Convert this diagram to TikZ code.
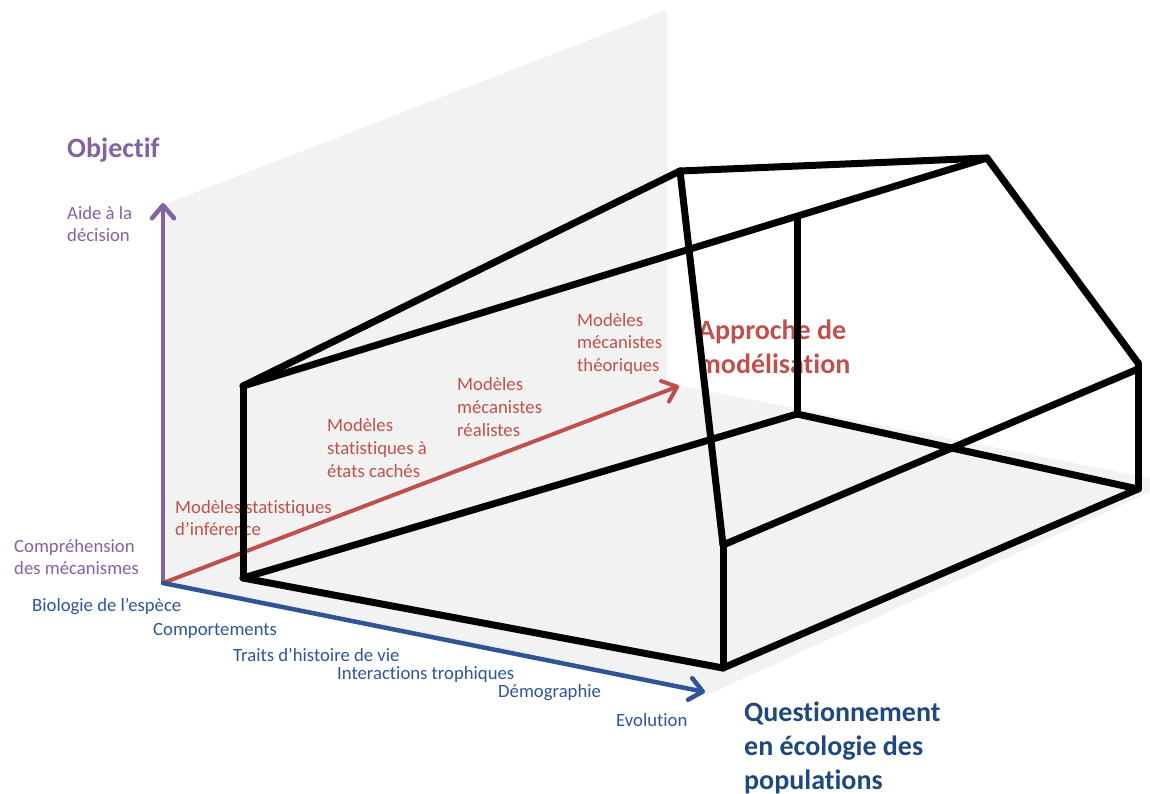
\documentclass[tikz,border=0pt]{standalone}
\usepackage{fontspec}
\setmainfont{Carlito}[Ligatures={NoCommon}]
\usetikzlibrary{arrows.meta}
\definecolor{plane}{HTML}{F2F2F2}
\definecolor{axpurple}{HTML}{8064A2}
\definecolor{axred}{HTML}{C0504D}
\definecolor{axblue}{HTML}{2F5597}
\definecolor{titleblue}{HTML}{1F497D}
\tikzset{
  lbl/.style={inner sep=0pt, anchor=west, align=left, font=\fontsize{18.7}{22.8}\selectfont},
  title/.style={inner sep=0pt, anchor=west, align=left, font=\bfseries\fontsize{28}{34}\selectfont},
  axis/.style={line width=4.5pt, line cap=round, -{Straight Barb[length=13pt,width=22pt,line cap=round,line join=round]}},
  frame/.style={line width=7pt, line cap=round, line join=round, black},
}
\begin{document}
\begin{tikzpicture}[x=1pt,y=-1pt]
\useasboundingbox (0,0) rectangle (1150,794);

% origin of the three axes
\coordinate (O) at (163,583);

% back wall and floor planes
\fill[plane] (O) -- (163,205) -- (667,10) -- (667,383) -- cycle;
\fill[plane] (O) -- (667,383) -- (1150,478) -- (1150,492) -- (707,695) -- cycle;

% axes
\coordinate (ptop) at (163,203);
\coordinate (rtip) at (679,386);
\coordinate (btip) at (705,692);
\draw[axis, axpurple] (O) -- (ptop);
\draw[axis, axred, line width=4pt] (O) -- (rtip);
\draw[axis, axblue] (O) -- (btip);

% vertical axis: objective
\node[title, text=axpurple] (objectif) at (67,150) {Objectif};
\node[lbl, text=axpurple] (aide) at (67,224) {Aide à la\\décision};
\node[lbl, text=axpurple] (compr) at (14,557) {Compréhension\\des mécanismes};

% horizontal axis: ecological questions
\node[lbl, text=axblue] (bio) at (32,607) {Biologie de l’espèce};
\node[lbl, text=axblue] (comport) at (153,631) {Comportements};
\node[lbl, text=axblue] (traits) at (233,655) {Traits d’histoire de vie};
\node[lbl, text=axblue] (interac) at (337,675) {Interactions trophiques};
\node[lbl, text=axblue] (demog) at (498,693) {Démographie};
\node[lbl, text=axblue] (evol) at (616,720) {Evolution};
\node[title, text=titleblue] (question) at (744,748) {Questionnement\\en écologie des\\populations};

% depth axis: modelling approach
\node[lbl, text=axred] (minf) at (175,518) {Modèles statistiques\\d’inférence};
\node[lbl, text=axred] (mcach) at (327,448) {Modèles\\statistiques à\\états cachés};
\node[lbl, text=axred] (mreal) at (457,407) {Modèles\\mécanistes\\réalistes};
\node[lbl, text=axred] (mtheo) at (577,344) {Modèles\\mécanistes\\théoriques};
\node[title, text=axred] (approche) at (698,347) {Approche de\\modélisation};

% wire-frame volume
\coordinate (A) at (243,386);
\coordinate (B) at (243,578);
\coordinate (C) at (723,668);
\coordinate (D) at (723,545);
\coordinate (E) at (680,171);
\coordinate (F) at (987,158);
\coordinate (G) at (1138,363);
\coordinate (Gd) at (1138,369);
\coordinate (H) at (1138,489);
\coordinate (I) at (797,219);
\coordinate (J) at (797,414);

\draw[frame] (A) -- (B);
\draw[frame] (B) -- (C);
\draw[frame] (C) -- (D);
\draw[frame] (D) -- (E);
\draw[frame] (A) -- (E);
\draw[frame] (E) -- (F);
\draw[frame] (A) -- (F);
\draw[frame] (I) -- (J);
\draw[frame] (F) -- (G);
\draw[frame] (G) -- (H);
\draw[frame] (H) -- (C);
\draw[frame] (D) -- (Gd);
\draw[frame] (B) -- (J);
\draw[frame] (J) -- (H);
\end{tikzpicture}
\end{document}
